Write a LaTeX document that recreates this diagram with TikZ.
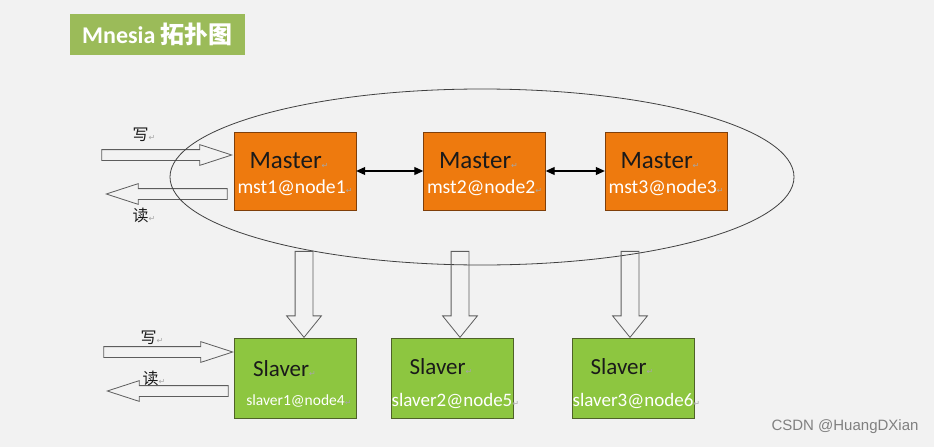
\documentclass[tikz,border=0pt]{standalone}
\usepackage{fontspec}
\setmainfont{Carlito}
\newfontfamily\cjk{Noto Sans CJK SC}
\newfontfamily\symfont{DejaVu Sans}
\newfontfamily\wmfont{Liberation Sans}
\usetikzlibrary{arrows.meta,positioning,shapes.geometric,shapes.arrows}
\definecolor{mnBg}{HTML}{F2F2F2}
\definecolor{mnTitle}{HTML}{9BBB59}
\definecolor{mnOrange}{HTML}{EE7A0E}
\definecolor{mnOrangeEdge}{HTML}{7F3F0A}
\definecolor{mnGreen}{HTML}{8DC640}
\definecolor{mnGreenEdge}{HTML}{4F6228}
\definecolor{mnInk}{HTML}{1A1A1A}
\definecolor{mnLine}{HTML}{404040}
\newcommand{\pmark}{{\symfont\fontsize{8}{8}\selectfont\color{black!35}↵}}
\newcommand{\mastertext}[1]{{\fontsize{25}{25}\selectfont\color{mnInk}\rule{0pt}{22pt}Master\pmark\hspace*{12pt}}\\[10pt]{\fontsize{19.7}{19.7}\selectfont\color{white}#1\pmark}}
\newcommand{\slavertext}[2]{{\fontsize{23}{23}\selectfont\color{mnInk}\rule{0pt}{27pt}Slaver\pmark\hspace*{22pt}}\\[17pt]{\fontsize{#1}{#1}\selectfont\color{white}#2\rlap{\pmark}}}
\tikzset{
  master/.style={
    draw=mnOrangeEdge,
    fill=mnOrange,
    align=center,
    minimum width=122pt,
    minimum height=78pt,
    inner sep=0pt
  },
  slaver/.style={
    draw=mnGreenEdge,
    fill=mnGreen,
    align=center,
    minimum width=122pt,
    minimum height=80pt,
    inner sep=0pt
  },
  cluster/.style={
    ellipse,
    draw=mnLine,
    line width=0.8pt,
    minimum width=624pt,
    minimum height=176pt
  },
  io/.style={
    single arrow,
    anchor=tip,
    draw=mnLine!85,
    line width=0.8pt,
    inner sep=5pt,
    single arrow head extend=5pt,
    single arrow tip angle=36
  },
  feed/.style={
    single arrow,
    anchor=tip,
    draw=mnLine!85,
    line width=0.8pt,
    inner sep=8.5pt,
    single arrow head extend=8.5pt,
    single arrow tip angle=78,
    minimum height=86pt,
    rotate=-90
  },
  sync/.style={{Triangle[length=9pt,width=8pt]}-{Triangle[length=9pt,width=8pt]}, line width=1.1pt, draw=black},
  rw/.style={font=\cjk\fontsize{16}{16}\selectfont, text=mnInk}
}

\begin{document}
\begin{tikzpicture}[x=1pt,y=-1pt]
  \fill[mnBg] (0,0) rectangle (934,447);
  \useasboundingbox (0,0) rectangle (934,447);

  % title
  \node[fill=mnTitle, minimum width=175pt, minimum height=41pt, inner sep=0pt,
        text=white, font=\bfseries\fontsize{24}{24}\selectfont] (title) at (157.5,34.5)
        {Mnesia {\cjk\bfseries 拓扑图}};

  % read / write on the masters
  \node[io, minimum height=130pt] (write1) at (233,155) {};
  \node[io, rotate=180, minimum height=121pt] (read1) at (105,194) {};
  \node[rw] (writeLbl1) at (144,135) {写\pmark};
  \node[rw] (readLbl1) at (144,215) {读\pmark};

  % read / write on slaver1
  \node[io, minimum height=129pt] (write2) at (234,352) {};
  \node[io, rotate=180, minimum height=121pt] (read2) at (106,391) {};
  \node[rw] (writeLbl2) at (152,338) {写\pmark};
  \node[rw] (readLbl2) at (154,378) {读\pmark};

  \node[cluster] (ring) at (482,177) {};

  % masters
  \node[master] (mst1) at (295,171) {\mastertext{mst1@node1}};
  \node[master] (mst2) at (484.5,171) {\mastertext{mst2@node2}};
  \node[master] (mst3) at (666,171) {\mastertext{mst3@node3}};

  \draw[sync] (mst1) -- (mst2);
  \draw[sync] (mst2) -- (mst3);

  % replication down
  \node[feed] (feed1) at (304,338) {};
  \node[feed] (feed2) at (460,338) {};
  \node[feed] (feed3) at (630,338) {};

  % slavers
  \node[slaver] (slv1) at (295.5,378) {\slavertext{15.5}{slaver1@node4}};
  \node[slaver] (slv2) at (452,378) {\slavertext{19}{slaver2@node5}};
  \node[slaver] (slv3) at (633,378) {\slavertext{19}{slaver3@node6}};

  \node[text=black!50, font=\wmfont\fontsize{15}{15}\selectfont] (mark) at (845,427) {CSDN @HuangDXian};
\end{tikzpicture}
\end{document}
